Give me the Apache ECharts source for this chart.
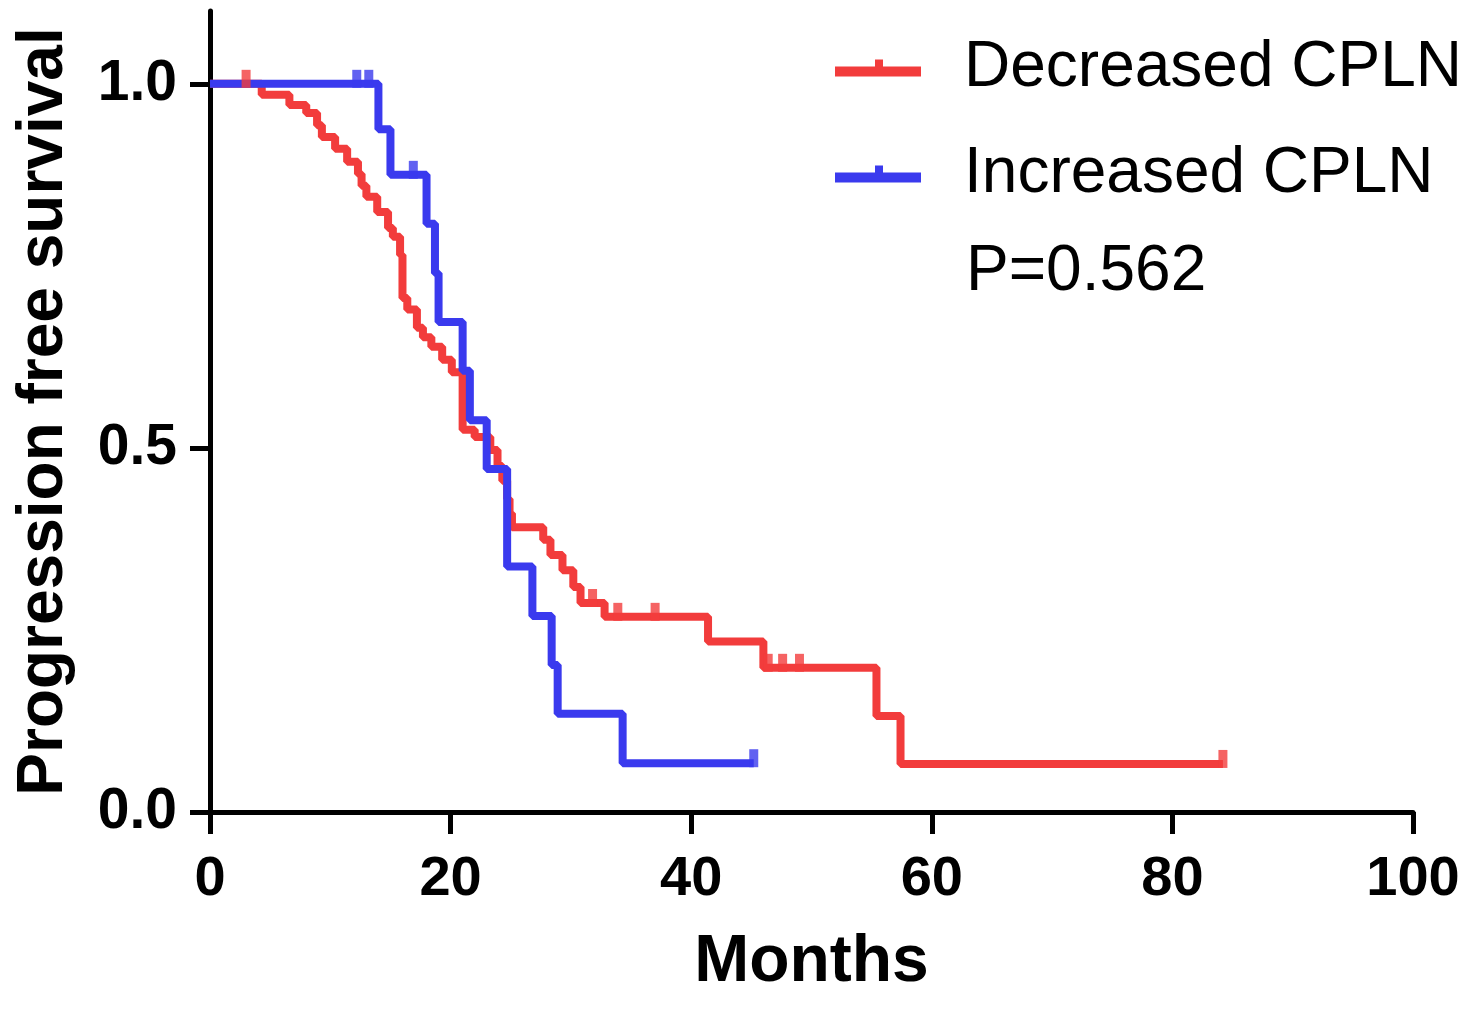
<!DOCTYPE html>
<html>
<head>
<meta charset="utf-8">
<script src="https://cdn.jsdelivr.net/npm/echarts@6/dist/echarts.min.js"></script>
<style>
  html, body { margin: 0; padding: 0; background: #fff; }
  #chart { width: 1476px; height: 1009px; }
</style>
</head>
<body>
<div id="chart"></div>
<script>
// Kaplan-Meier steps: [month, survival from that month on]
const decreasedSteps = [
    [0, 1.0], [4.3, 0.985], [6.6, 0.971], [8.0, 0.960], [8.9, 0.943], [9.3, 0.927],
    [10.4, 0.911], [11.4, 0.893], [12.3, 0.876], [12.6, 0.860], [13.0, 0.845],
    [13.9, 0.824], [14.8, 0.802], [15.2, 0.790], [15.8, 0.765], [16.0, 0.706],
    [16.4, 0.690], [17.2, 0.665], [17.7, 0.652], [18.4, 0.639], [19.3, 0.621],
    [20.1, 0.604], [21.0, 0.525], [22.0, 0.515], [23.3, 0.497], [23.9, 0.475],
    [24.3, 0.455], [24.7, 0.430], [24.9, 0.410], [25.1, 0.391], [27.7, 0.374],
    [28.3, 0.353], [29.3, 0.332], [30.2, 0.309], [30.8, 0.287], [32.8, 0.268],
    [41.4, 0.234], [46.0, 0.198], [55.4, 0.132], [57.4, 0.066], [84.2, 0.066]
];
const decreasedCensored = [
    [3.0, 1.0], [31.8, 0.287], [33.9, 0.268], [37.0, 0.268],
    [46.4, 0.198], [47.6, 0.198], [49.0, 0.198], [84.2, 0.066]
];
const increasedSteps = [
    [0, 1.0], [14.0, 0.9375], [15.0, 0.875], [18.0, 0.808], [18.7, 0.740],
    [19.0, 0.673], [21.0, 0.606], [21.6, 0.538], [23.0, 0.471], [24.7, 0.337],
    [26.8, 0.269], [28.4, 0.202], [28.9, 0.135], [34.3, 0.067], [45.2, 0.067]
];
const increasedCensored = [
    [12.2, 1.0], [13.2, 1.0], [16.9, 0.875], [45.2, 0.067]
];

const groupNames = ['Decreased CPLN', 'Increased CPLN'];
const groupColors = ['#f23c3c', '#3a3aee'];
const xTicks = [0, 20, 40, 60, 80, 100];
const yTicks = [0, 0.5, 1.0];
const pValueText = 'P=0.562';

const FONT = '"Liberation Sans", Arial, sans-serif';
// legend glyph: thick bar with a censor tick in the middle
const legendIcon = 'path://M0,7H40V0H48V7H86V17H0Z';

function curve(name, data, color) {
    return {
        name: name,
        type: 'line',
        step: 'end',
        data: data,
        showSymbol: false,
        lineStyle: { color: color, width: 8 },
        itemStyle: { color: color },
        z: 3
    };
}

function ticks(name, data, color) {
    return {
        name: name,
        type: 'scatter',
        data: data,
        symbol: 'rect',
        symbolSize: [9, 18],
        symbolOffset: [0, -5],
        itemStyle: { color: color },
        z: 4
    };
}

const chart = echarts.init(document.getElementById('chart'));
chart.setOption({
    animation: false,
    backgroundColor: '#fff',
    grid: {
        left: 210, right: 63, top: 11, bottom: 197,
        outerBoundsMode: 'none'
    },
    legend: {
        data: groupNames.map(n => ({ name: n, icon: legendIcon })),
        orient: 'vertical',
        left: 830,
        top: 28,
        itemWidth: 86,
        itemHeight: 17,
        itemGap: 36,
        selectedMode: false,
        textStyle: {
            fontFamily: FONT,
            fontSize: 64,
            color: '#000',
            lineHeight: 70,
            padding: [0, 0, 0, 38]
        }
    },
    xAxis: {
        type: 'value',
        min: 0,
        max: 100,
        interval: 20,
        name: 'Months',
        nameLocation: 'middle',
        nameGap: 118,
        nameTextStyle: { fontFamily: FONT, fontSize: 66, fontWeight: 'bold', color: '#000' },
        axisLine: { onZero: false, lineStyle: { color: '#000', width: 5 } },
        axisTick: { length: 22, lineStyle: { color: '#000', width: 5 }, customValues: xTicks },
        axisLabel: {
            margin: 40,
            fontFamily: FONT, fontSize: 56, fontWeight: 'bold', color: '#000',
            customValues: xTicks
        },
        splitLine: { show: false }
    },
    yAxis: {
        type: 'value',
        min: 0,
        max: 1.1,
        name: 'Progression free survival',
        nameLocation: 'middle',
        nameGap: 134,
        nameTextStyle: { fontFamily: FONT, fontSize: 64, fontWeight: 'bold', color: '#000' },
        axisLine: { onZero: false, lineStyle: { color: '#000', width: 5 } },
        axisTick: { length: 20, lineStyle: { color: '#000', width: 5 }, customValues: yTicks },
        axisLabel: {
            margin: 33,
            fontFamily: FONT, fontSize: 57, fontWeight: 'bold', color: '#000',
            customValues: yTicks,
            formatter: v => v.toFixed(1)
        },
        splitLine: { show: false }
    },
    graphic: [{
        type: 'text',
        left: 966,
        top: 240,
        style: { text: pValueText, font: '64px ' + FONT, fill: '#000' }
    }],
    series: [
        curve(groupNames[0], decreasedSteps, groupColors[0]),
        ticks(groupNames[0], decreasedCensored, groupColors[0]),
        curve(groupNames[1], increasedSteps, groupColors[1]),
        ticks(groupNames[1], increasedCensored, groupColors[1])
    ]
});
</script>
</body>
</html>
